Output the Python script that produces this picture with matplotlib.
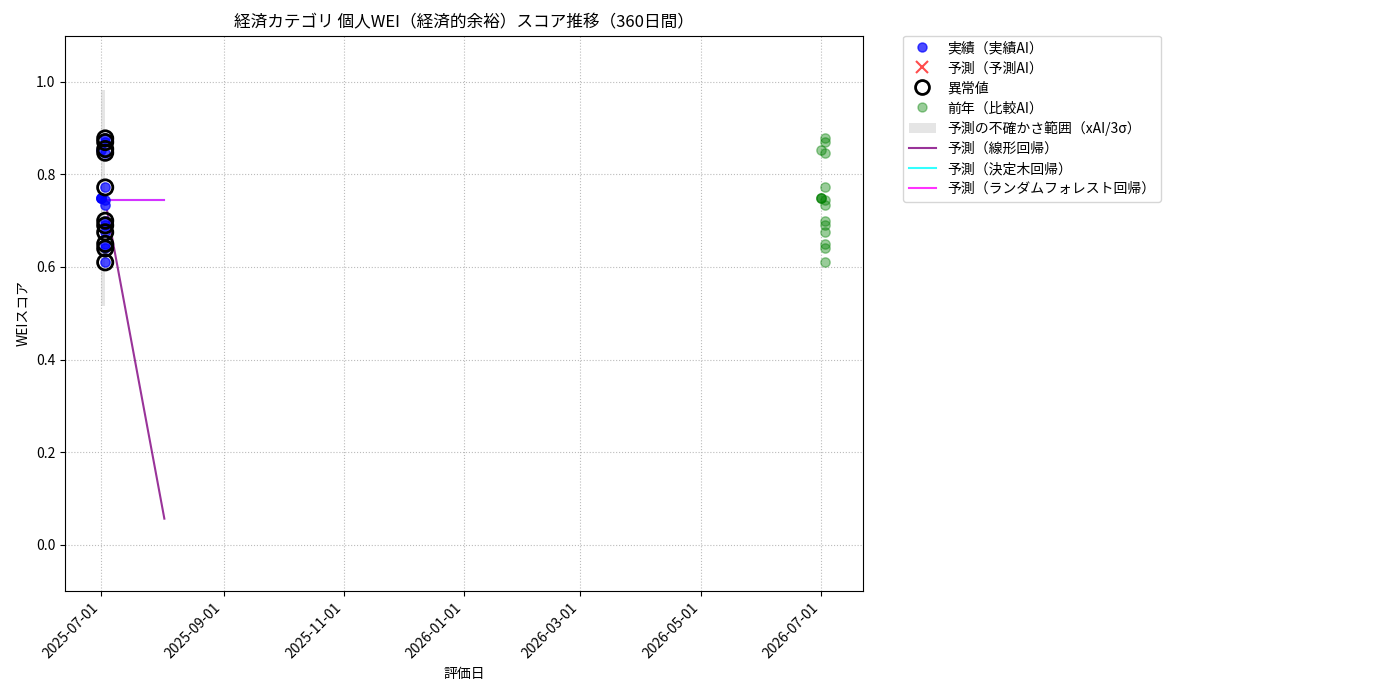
import matplotlib
matplotlib.use("Agg")
import matplotlib.pyplot as plt
import matplotlib.dates as mdates
from matplotlib.patches import Patch
from matplotlib.lines import Line2D
import numpy as np
import pandas as pd

plt.rcParams['font.family'] = ['Noto Sans CJK JP', 'DejaVu Sans']

# ---- data ----
actual_dates = ["2025-07-01", "2025-07-01", "2025-07-01", "2025-07-01",
                "2025-07-03", "2025-07-03", "2025-07-03", "2025-07-03", "2025-07-03", "2025-07-03",
                "2025-07-03", "2025-07-03", "2025-07-03", "2025-07-03", "2025-07-03", "2025-07-03"]
actual_values = [0.852, 0.75, 0.75, 0.75,
                 0.878, 0.87, 0.847, 0.772, 0.745, 0.735,
                 0.70, 0.69, 0.675, 0.65, 0.64, 0.61]

anomaly_dates = ["2025-07-03"] * 11
anomaly_values = [0.878, 0.87, 0.855, 0.847, 0.772, 0.70, 0.69, 0.675, 0.65, 0.64, 0.61]

pred_ai_dates = []
pred_ai_values = []

prev_dates = ["2026-07-01", "2026-07-01", "2026-07-01", "2026-07-01",
              "2026-07-03", "2026-07-03", "2026-07-03", "2026-07-03", "2026-07-03", "2026-07-03",
              "2026-07-03", "2026-07-03", "2026-07-03", "2026-07-03", "2026-07-03", "2026-07-03"]
prev_values = [0.852, 0.75, 0.75, 0.75,
               0.878, 0.87, 0.847, 0.772, 0.745, 0.735,
               0.70, 0.69, 0.675, 0.65, 0.64, 0.61]

band_dates = ["2025-07-01", "2025-07-03"]
band_lower = [0.516, 0.516]
band_upper = [0.983, 0.983]

pred_dates = ["2025-07-04", "2025-08-02"]
pred_linear = [0.721, 0.056]
pred_tree = [0.744, 0.744]
pred_rf = [0.744, 0.744]

xlim_dates = ["2025-06-12 16:00", "2026-07-22 08:00"]

title = "経済カテゴリ 個人WEI（経済的余裕）スコア推移（360日間）"

# ---- plot ----
fig = plt.figure(figsize=(14, 7), dpi=100)
ax = fig.add_axes([0.0465, 0.156, 0.5700, 0.793])

td = lambda l: pd.to_datetime(l)

ax.fill_between(td(band_dates), band_lower, band_upper, color='gray', alpha=0.2, linewidth=0)
ax.scatter(td(actual_dates), actual_values, color='blue', alpha=0.7, s=45, zorder=3)
ax.scatter(td(anomaly_dates), anomaly_values, facecolors='none', edgecolors='black', s=120, linewidths=2, zorder=4)
ax.scatter(td(pred_ai_dates) if pred_ai_dates else [], pred_ai_values, color='red', marker='x', s=80, alpha=0.7)
ax.scatter(td(prev_dates), prev_values, color='green', alpha=0.4, s=45, zorder=3)
ax.plot(td(pred_dates), pred_linear, color='purple', alpha=0.8, linewidth=1.5)
ax.plot(td(pred_dates), pred_tree, color='cyan', alpha=0.8, linewidth=1.5)
ax.plot(td(pred_dates), pred_rf, color='magenta', alpha=0.8, linewidth=1.5)

ax.set_xlim(td(xlim_dates))
ax.set_ylim(-0.1, 1.1)
ax.xaxis.set_major_locator(mdates.MonthLocator(bymonth=[1, 3, 5, 7, 9, 11]))
ax.xaxis.set_major_formatter(mdates.DateFormatter('%Y-%m-%d'))
plt.setp(ax.get_xticklabels(), rotation=45, ha='right')
ax.grid(True, linestyle=':', color='#bbbbbb', linewidth=0.8)

ax.set_title(title, fontsize=12)
ax.set_xlabel("評価日", fontsize=10)
ax.set_ylabel("WEIスコア", fontsize=10)

handles = [
    Line2D([], [], linestyle='none', marker='o', markerfacecolor='blue', markeredgecolor='blue', alpha=0.7, markersize=6.5),
    Line2D([], [], linestyle='none', marker='x', color='red', alpha=0.7, markersize=9, markeredgewidth=1.5),
    Line2D([], [], linestyle='none', marker='o', markerfacecolor='none', markeredgecolor='black', markersize=10, markeredgewidth=2),
    Line2D([], [], linestyle='none', marker='o', markerfacecolor='green', markeredgecolor='green', alpha=0.4, markersize=6.5),
    Patch(facecolor='gray', alpha=0.2),
    Line2D([], [], color='purple', alpha=0.8, linewidth=1.5),
    Line2D([], [], color='cyan', alpha=0.8, linewidth=1.5),
    Line2D([], [], color='magenta', alpha=0.8, linewidth=1.5),
]
labels = ["実績（実績AI）", "予測（予測AI）", "異常値", "前年（比較AI）",
          "予測の不確かさ範囲（xAI/3σ）", "予測（線形回帰）", "予測（決定木回帰）",
          "予測（ランダムフォレスト回帰）"]
ax.legend(handles, labels, bbox_to_anchor=(1.05, 1), loc='upper left', borderaxespad=0.,
          fontsize=10, labelspacing=0.43)

fig.savefig("out.png", dpi=100)
